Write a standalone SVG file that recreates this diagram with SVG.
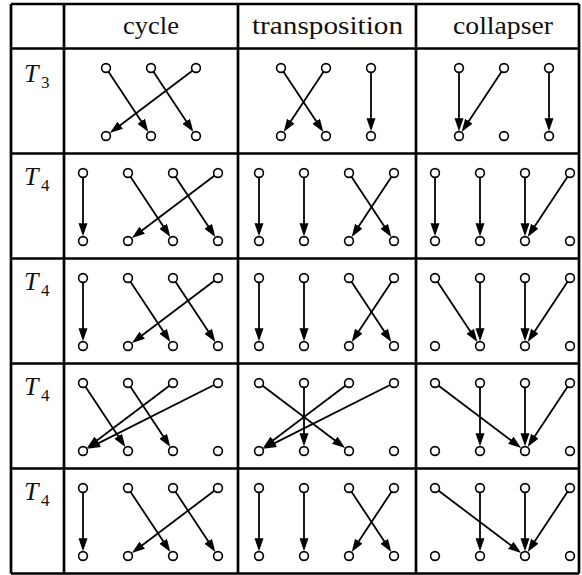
<svg xmlns="http://www.w3.org/2000/svg" width="582" height="575" viewBox="0 0 582 575">
<style>
.grid{stroke:#000;stroke-width:2.7;fill:none}
.hd{font-family:"Liberation Serif","Times New Roman",serif;font-size:25px;fill:#111;text-anchor:middle}
.lb{font-family:"Liberation Serif","Times New Roman",serif;font-size:26px;font-style:italic;fill:#111}
.lb tspan{font-style:normal;font-size:17px}
.n{fill:#fff;stroke:#000;stroke-width:1.6}
.e{stroke:#000;stroke-width:1.8;fill:none;marker-end:url(#ah)}
</style>
<defs>
<marker id="ah" markerUnits="userSpaceOnUse" markerWidth="14" markerHeight="10" refX="7" refY="4.5" orient="auto">
<path d="M0,0 L13,4.5 L0,9 Z" fill="#000"/>
</marker>
</defs>
<rect width="582" height="575" fill="#fff"/>
<g id="table">
<path class="grid" d="M11,4 H579 M11,48.5 H579 M11,153.5 H579 M11,258.5 H579 M11,363.5 H579 M11,468.5 H579 M11,573.5 H579 M11,4 V573.5 M64,4 V573.5 M238,4 V573.5 M416,4 V573.5 M579,4 V573.5"/>
<text class="hd" x="151" y="34" textLength="56" lengthAdjust="spacingAndGlyphs">cycle</text>
<text class="hd" x="327.5" y="34" textLength="151" lengthAdjust="spacingAndGlyphs">transposition</text>
<text class="hd" x="503" y="34" textLength="100" lengthAdjust="spacingAndGlyphs">collapser</text>
<text class="lb" x="24" y="82">T<tspan x="41" dy="6">3</tspan></text>
<text class="lb" x="24" y="185">T<tspan x="41" dy="6">4</tspan></text>
<text class="lb" x="24" y="290">T<tspan x="41" dy="6">4</tspan></text>
<text class="lb" x="24" y="395">T<tspan x="41" dy="6">4</tspan></text>
<text class="lb" x="24" y="500">T<tspan x="41" dy="6">4</tspan></text>
</g>
<g id="connectors">
<g transform="translate(0,48.5)">
<path class="e" d="M106,19.5 L145.04,78.49"/>
<path class="e" d="M151,19.5 L190.04,78.49"/>
<path class="e" d="M196,19.5 L114.62,80.99"/>
<path class="e" d="M281,19.5 L320.04,78.49"/>
<path class="e" d="M326,19.5 L286.96,78.49"/>
<path class="e" d="M371,19.5 L371,76.7"/>
<path class="e" d="M459,19.5 L459,76.7"/>
<path class="e" d="M504,19.5 L464.96,78.49"/>
<path class="e" d="M549,19.5 L549,76.7"/>
</g>
<g transform="translate(0,153.5)">
<path class="e" d="M83,19.5 L83,76.7"/>
<path class="e" d="M128,19.5 L167.04,78.49"/>
<path class="e" d="M173,19.5 L212.04,78.49"/>
<path class="e" d="M218,19.5 L136.62,80.99"/>
<path class="e" d="M259,19.5 L259,76.7"/>
<path class="e" d="M304,19.5 L304,76.7"/>
<path class="e" d="M349,19.5 L388.04,78.49"/>
<path class="e" d="M394,19.5 L354.96,78.49"/>
<path class="e" d="M435,19.5 L435,76.7"/>
<path class="e" d="M480,19.5 L480,76.7"/>
<path class="e" d="M525,19.5 L525,76.7"/>
<path class="e" d="M570,19.5 L530.96,78.49"/>
</g>
<g transform="translate(0,258.5)">
<path class="e" d="M83,19.5 L83,76.7"/>
<path class="e" d="M128,19.5 L167.04,78.49"/>
<path class="e" d="M173,19.5 L212.04,78.49"/>
<path class="e" d="M218,19.5 L136.62,80.99"/>
<path class="e" d="M259,19.5 L259,76.7"/>
<path class="e" d="M304,19.5 L304,76.7"/>
<path class="e" d="M349,19.5 L388.04,78.49"/>
<path class="e" d="M394,19.5 L354.96,78.49"/>
<path class="e" d="M435,19.5 L474.04,78.49"/>
<path class="e" d="M480,19.5 L480,76.7"/>
<path class="e" d="M525,19.5 L525,76.7"/>
<path class="e" d="M570,19.5 L530.96,78.49"/>
</g>
<g transform="translate(0,363.5)">
<path class="e" d="M83,19.5 L122.04,78.49"/>
<path class="e" d="M128,19.5 L167.04,78.49"/>
<path class="e" d="M173,19.5 L91.62,80.99"/>
<path class="e" d="M218,19.5 L92.65,82.64"/>
<path class="e" d="M259,19.5 L340.38,80.99"/>
<path class="e" d="M304,19.5 L304,76.7"/>
<path class="e" d="M349,19.5 L267.62,80.99"/>
<path class="e" d="M394,19.5 L268.65,82.64"/>
<path class="e" d="M435,19.5 L516.38,80.99"/>
<path class="e" d="M480,19.5 L480,76.7"/>
<path class="e" d="M525,19.5 L525,76.7"/>
<path class="e" d="M570,19.5 L530.96,78.49"/>
</g>
<g transform="translate(0,468.5)">
<path class="e" d="M83,19.5 L83,76.7"/>
<path class="e" d="M128,19.5 L167.04,78.49"/>
<path class="e" d="M173,19.5 L212.04,78.49"/>
<path class="e" d="M218,19.5 L136.62,80.99"/>
<path class="e" d="M259,19.5 L259,76.7"/>
<path class="e" d="M304,19.5 L304,76.7"/>
<path class="e" d="M349,19.5 L388.04,78.49"/>
<path class="e" d="M394,19.5 L354.96,78.49"/>
<path class="e" d="M435,19.5 L516.38,80.99"/>
<path class="e" d="M480,19.5 L480,76.7"/>
<path class="e" d="M525,19.5 L525,76.7"/>
<path class="e" d="M570,19.5 L530.96,78.49"/>
</g>
</g>
<g id="nodes">
<g id="row1" transform="translate(0,48.5)">
<g id="r1-cycle"><circle class="n" cx="106" cy="19.5" r="4.4"/><circle class="n" cx="151" cy="19.5" r="4.4"/><circle class="n" cx="196" cy="19.5" r="4.4"/><circle class="n" cx="106" cy="87.5" r="4.4"/><circle class="n" cx="151" cy="87.5" r="4.4"/><circle class="n" cx="196" cy="87.5" r="4.4"/></g>
<g id="r1-trans"><circle class="n" cx="281" cy="19.5" r="4.4"/><circle class="n" cx="326" cy="19.5" r="4.4"/><circle class="n" cx="371" cy="19.5" r="4.4"/><circle class="n" cx="281" cy="87.5" r="4.4"/><circle class="n" cx="326" cy="87.5" r="4.4"/><circle class="n" cx="371" cy="87.5" r="4.4"/></g>
<g id="r1-coll"><circle class="n" cx="459" cy="19.5" r="4.4"/><circle class="n" cx="504" cy="19.5" r="4.4"/><circle class="n" cx="549" cy="19.5" r="4.4"/><circle class="n" cx="459" cy="87.5" r="4.4"/><circle class="n" cx="504" cy="87.5" r="4.4"/><circle class="n" cx="549" cy="87.5" r="4.4"/></g>
</g>
<g id="row2" transform="translate(0,153.5)">
<g id="r2-cycle"><circle class="n" cx="83" cy="19.5" r="4.4"/><circle class="n" cx="128" cy="19.5" r="4.4"/><circle class="n" cx="173" cy="19.5" r="4.4"/><circle class="n" cx="218" cy="19.5" r="4.4"/><circle class="n" cx="83" cy="87.5" r="4.4"/><circle class="n" cx="128" cy="87.5" r="4.4"/><circle class="n" cx="173" cy="87.5" r="4.4"/><circle class="n" cx="218" cy="87.5" r="4.4"/></g>
<g id="r2-trans"><circle class="n" cx="259" cy="19.5" r="4.4"/><circle class="n" cx="304" cy="19.5" r="4.4"/><circle class="n" cx="349" cy="19.5" r="4.4"/><circle class="n" cx="394" cy="19.5" r="4.4"/><circle class="n" cx="259" cy="87.5" r="4.4"/><circle class="n" cx="304" cy="87.5" r="4.4"/><circle class="n" cx="349" cy="87.5" r="4.4"/><circle class="n" cx="394" cy="87.5" r="4.4"/></g>
<g id="r2-coll"><circle class="n" cx="435" cy="19.5" r="4.4"/><circle class="n" cx="480" cy="19.5" r="4.4"/><circle class="n" cx="525" cy="19.5" r="4.4"/><circle class="n" cx="570" cy="19.5" r="4.4"/><circle class="n" cx="435" cy="87.5" r="4.4"/><circle class="n" cx="480" cy="87.5" r="4.4"/><circle class="n" cx="525" cy="87.5" r="4.4"/><circle class="n" cx="570" cy="87.5" r="4.4"/></g>
</g>
<g id="row3" transform="translate(0,258.5)">
<g id="r3-cycle"><circle class="n" cx="83" cy="19.5" r="4.4"/><circle class="n" cx="128" cy="19.5" r="4.4"/><circle class="n" cx="173" cy="19.5" r="4.4"/><circle class="n" cx="218" cy="19.5" r="4.4"/><circle class="n" cx="83" cy="87.5" r="4.4"/><circle class="n" cx="128" cy="87.5" r="4.4"/><circle class="n" cx="173" cy="87.5" r="4.4"/><circle class="n" cx="218" cy="87.5" r="4.4"/></g>
<g id="r3-trans"><circle class="n" cx="259" cy="19.5" r="4.4"/><circle class="n" cx="304" cy="19.5" r="4.4"/><circle class="n" cx="349" cy="19.5" r="4.4"/><circle class="n" cx="394" cy="19.5" r="4.4"/><circle class="n" cx="259" cy="87.5" r="4.4"/><circle class="n" cx="304" cy="87.5" r="4.4"/><circle class="n" cx="349" cy="87.5" r="4.4"/><circle class="n" cx="394" cy="87.5" r="4.4"/></g>
<g id="r3-coll"><circle class="n" cx="435" cy="19.5" r="4.4"/><circle class="n" cx="480" cy="19.5" r="4.4"/><circle class="n" cx="525" cy="19.5" r="4.4"/><circle class="n" cx="570" cy="19.5" r="4.4"/><circle class="n" cx="435" cy="87.5" r="4.4"/><circle class="n" cx="480" cy="87.5" r="4.4"/><circle class="n" cx="525" cy="87.5" r="4.4"/><circle class="n" cx="570" cy="87.5" r="4.4"/></g>
</g>
<g id="row4" transform="translate(0,363.5)">
<g id="r4-cycle"><circle class="n" cx="83" cy="19.5" r="4.4"/><circle class="n" cx="128" cy="19.5" r="4.4"/><circle class="n" cx="173" cy="19.5" r="4.4"/><circle class="n" cx="218" cy="19.5" r="4.4"/><circle class="n" cx="83" cy="87.5" r="4.4"/><circle class="n" cx="128" cy="87.5" r="4.4"/><circle class="n" cx="173" cy="87.5" r="4.4"/><circle class="n" cx="218" cy="87.5" r="4.4"/></g>
<g id="r4-trans"><circle class="n" cx="259" cy="19.5" r="4.4"/><circle class="n" cx="304" cy="19.5" r="4.4"/><circle class="n" cx="349" cy="19.5" r="4.4"/><circle class="n" cx="394" cy="19.5" r="4.4"/><circle class="n" cx="259" cy="87.5" r="4.4"/><circle class="n" cx="304" cy="87.5" r="4.4"/><circle class="n" cx="349" cy="87.5" r="4.4"/><circle class="n" cx="394" cy="87.5" r="4.4"/></g>
<g id="r4-coll"><circle class="n" cx="435" cy="19.5" r="4.4"/><circle class="n" cx="480" cy="19.5" r="4.4"/><circle class="n" cx="525" cy="19.5" r="4.4"/><circle class="n" cx="570" cy="19.5" r="4.4"/><circle class="n" cx="435" cy="87.5" r="4.4"/><circle class="n" cx="480" cy="87.5" r="4.4"/><circle class="n" cx="525" cy="87.5" r="4.4"/><circle class="n" cx="570" cy="87.5" r="4.4"/></g>
</g>
<g id="row5" transform="translate(0,468.5)">
<g id="r5-cycle"><circle class="n" cx="83" cy="19.5" r="4.4"/><circle class="n" cx="128" cy="19.5" r="4.4"/><circle class="n" cx="173" cy="19.5" r="4.4"/><circle class="n" cx="218" cy="19.5" r="4.4"/><circle class="n" cx="83" cy="87.5" r="4.4"/><circle class="n" cx="128" cy="87.5" r="4.4"/><circle class="n" cx="173" cy="87.5" r="4.4"/><circle class="n" cx="218" cy="87.5" r="4.4"/></g>
<g id="r5-trans"><circle class="n" cx="259" cy="19.5" r="4.4"/><circle class="n" cx="304" cy="19.5" r="4.4"/><circle class="n" cx="349" cy="19.5" r="4.4"/><circle class="n" cx="394" cy="19.5" r="4.4"/><circle class="n" cx="259" cy="87.5" r="4.4"/><circle class="n" cx="304" cy="87.5" r="4.4"/><circle class="n" cx="349" cy="87.5" r="4.4"/><circle class="n" cx="394" cy="87.5" r="4.4"/></g>
<g id="r5-coll"><circle class="n" cx="435" cy="19.5" r="4.4"/><circle class="n" cx="480" cy="19.5" r="4.4"/><circle class="n" cx="525" cy="19.5" r="4.4"/><circle class="n" cx="570" cy="19.5" r="4.4"/><circle class="n" cx="435" cy="87.5" r="4.4"/><circle class="n" cx="480" cy="87.5" r="4.4"/><circle class="n" cx="525" cy="87.5" r="4.4"/><circle class="n" cx="570" cy="87.5" r="4.4"/></g>
</g>
</g>
</svg>
